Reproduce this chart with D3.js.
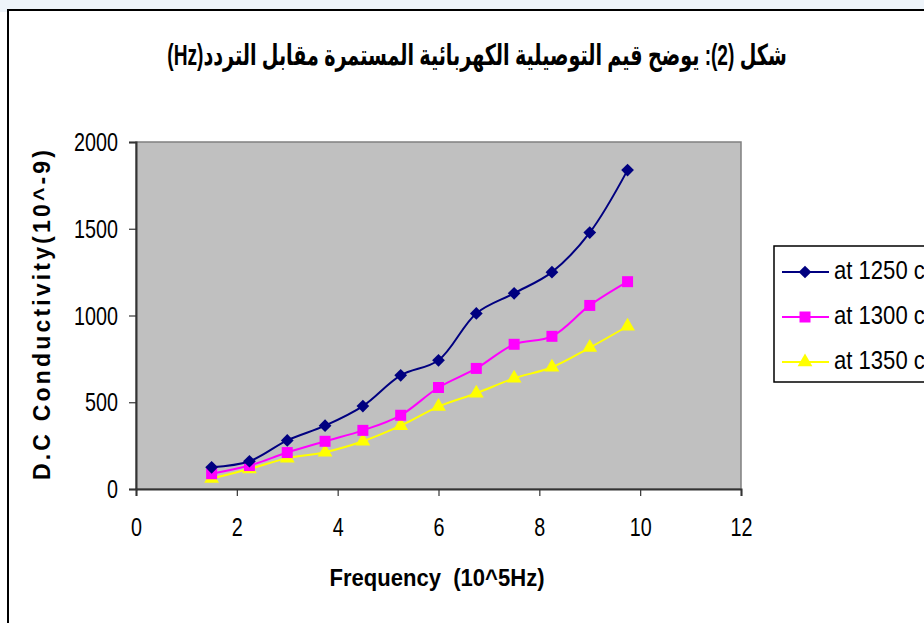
<!DOCTYPE html>
<html>
<head>
<meta charset="utf-8">
<script src="https://cdn.jsdelivr.net/npm/d3@7"></script>
<style>
  body { margin: 0; background: #fff; }
  svg { display: block; }
</style>
</head>
<body>
<script>
// frequency (10^5 Hz)
var freq = [1.5, 2.25, 3, 3.75, 4.5, 5.25, 6, 6.75, 7.5, 8.25, 9, 9.75];
// D.C conductivity (10^-9)
var at1250 = [125, 160, 280, 365, 478, 655, 742, 1012, 1128, 1250, 1478, 1838];
var at1300 = [88, 135, 210, 275, 338, 425, 585, 695, 834, 880, 1058, 1195];
var at1350 = [60, 115, 178, 212, 275, 365, 475, 552, 638, 702, 815, 938];
var seriesNames = ["at 1250 c\u00BA", "at 1300 c\u00BA", "at 1350 c\u00BA"];
var xTicks = [0, 2, 4, 6, 8, 10, 12];
var yTicks = [0, 500, 1000, 1500, 2000];

var W = 924, H = 623;
var font = "'Liberation Sans', Arial, sans-serif";
var squeeze = 0.79; // poor man's Arial Narrow

var svg = d3.select("body").append("svg")
    .attr("width", W)
    .attr("height", H);

// light strip of the page behind the frame
svg.append("rect")
  .attr("x", 0).attr("y", 0)
  .attr("width", W).attr("height", 12)
  .attr("fill", "#eef4fa");

// chart frame
svg.append("rect")
  .attr("x", 8).attr("y", 10)
  .attr("width", W).attr("height", H)
  .attr("fill", "#fff")
  .attr("stroke", "#000")
  .attr("stroke-width", 2);

var x = d3.scaleLinear().domain([0, 12]).range([136, 741]);
var y = d3.scaleLinear().domain([0, 2000]).range([489, 142]);

// plot area
svg.append("rect")
  .attr("x", x(0)).attr("y", y(2000))
  .attr("width", x(12) - x(0)).attr("height", y(0) - y(2000))
  .attr("fill", "#c0c0c0")
  .attr("stroke", "#808080")
  .attr("stroke-width", 1.5);

var xaxis = svg.append("g")
  .attr("transform", "translate(0," + y(0) + ")")
  .call(d3.axisBottom(x).tickValues(xTicks).tickSize(7).tickFormat(d3.format("d")));
var yaxis = svg.append("g")
  .attr("transform", "translate(" + x(0) + ",0)")
  .call(d3.axisLeft(y).tickValues(yTicks).tickSize(7).tickFormat(d3.format("d")));

[xaxis, yaxis].forEach(function(a) {
  a.select(".domain").attr("stroke", "#333").attr("stroke-width", 2);
  a.selectAll(".tick line").attr("stroke", "#333").attr("stroke-width", 1.2);
  a.selectAll("text")
    .style("font-family", font)
    .style("font-size", "25px")
    .attr("fill", "#000")
    .attr("transform", "scale(" + squeeze + ",1)");
});
xaxis.selectAll(".tick text").attr("y", 47).attr("dy", 0);
yaxis.selectAll(".tick text").attr("x", -18 / squeeze).attr("dy", "0.34em");

// axis titles
svg.append("text")
  .attr("x", 437)
  .attr("y", 586)
  .attr("text-anchor", "middle")
  .attr("textLength", 215)
  .attr("lengthAdjust", "spacingAndGlyphs")
  .style("font-family", font)
  .style("font-size", "24px")
  .style("font-weight", "bold")
  .attr("xml:space", "preserve")
  .text("Frequency  (10^5Hz)");

svg.append("text")
  .attr("transform", "translate(50,315) rotate(-90)")
  .attr("text-anchor", "middle")
  .attr("textLength", 330)
  .attr("lengthAdjust", "spacing")
  .style("font-family", font)
  .style("font-size", "23px")
  .style("font-weight", "bold")
  .text("D.C Conductivity(10^-9)");

// title
svg.append("text")
  .attr("transform", "translate(477,65) scale(0.66,1)")
  .attr("text-anchor", "middle")
  .attr("direction", "rtl")
  .style("font-family", "'Liberation Sans', 'DejaVu Sans', sans-serif")
  .style("font-size", "29px")
  .style("font-weight", "bold")
  .text("شكل (2): يوضح قيم  التوصيلية الكهربائية المستمرة مقابل التردد(Hz)");

var series = [
  { name: seriesNames[0], values: at1250, color: "#000080", shape: d3.symbolSquare, size: 81, rot: 45 },
  { name: seriesNames[1], values: at1300, color: "#ff00ff", shape: d3.symbolSquare, size: 121, rot: 0 },
  { name: seriesNames[2], values: at1350, color: "#ffff00", shape: d3.symbolTriangle, size: 95, rot: 0 }
];

var line = d3.line()
  .x(function(d) { return x(d[0]); })
  .y(function(d) { return y(d[1]); })
  .curve(d3.curveCatmullRom);

// draw last series first so 1250 sits on top
series.slice().reverse().forEach(function(s) {
  var pts = freq.map(function(f, i) { return [f, s.values[i]]; });
  var g = svg.append("g");
  g.append("path")
    .datum(pts)
    .attr("d", line)
    .attr("fill", "none")
    .attr("stroke", s.color)
    .attr("stroke-width", 2);
  g.selectAll("path.pt")
    .data(pts)
    .enter().append("path")
    .attr("class", "pt")
    .attr("d", d3.symbol().type(s.shape).size(s.size))
    .attr("transform", function(d) {
      return "translate(" + x(d[0]) + "," + y(d[1]) + ") rotate(" + s.rot + ")";
    })
    .attr("fill", s.color);
});

// legend
var lg = svg.append("g");
lg.append("rect")
  .attr("x", 774).attr("y", 246)
  .attr("width", 200).attr("height", 136)
  .attr("fill", "#fff")
  .attr("stroke", "#000")
  .attr("stroke-width", 1.5);

series.forEach(function(s, i) {
  var ly = 272 + i * 45;
  lg.append("line")
    .attr("x1", 782).attr("x2", 829)
    .attr("y1", ly).attr("y2", ly)
    .attr("stroke", s.color)
    .attr("stroke-width", 2);
  lg.append("path")
    .attr("d", d3.symbol().type(s.shape).size(s.size))
    .attr("transform", "translate(805," + ly + ") rotate(" + s.rot + ")")
    .attr("fill", s.color);
  lg.append("text")
    .attr("transform", "translate(834," + (ly + 7) + ") scale(0.85,1)")
    .style("font-family", font)
    .style("font-size", "26px")
    .text(s.name);
});
</script>
</body>
</html>
